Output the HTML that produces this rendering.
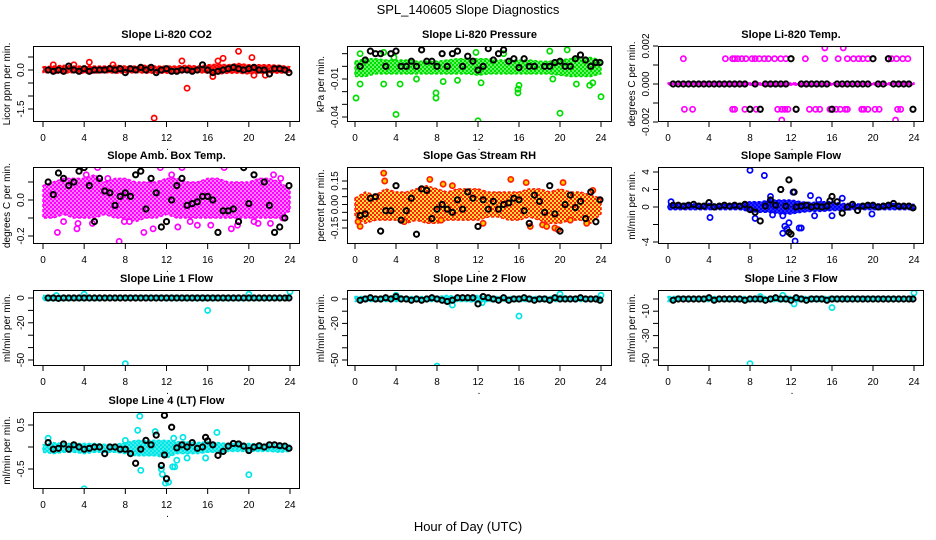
<!DOCTYPE html>
<html><head><meta charset="utf-8"><style>
html,body{margin:0;padding:0;background:#fff;}
svg{display:block;font-family:"Liberation Sans",sans-serif;}
</style></head><body>
<svg id="chart" width="936" height="540" viewBox="0 0 936 540">
<rect x="0" y="0" width="936" height="540" fill="#fff"/>
<text x="468" y="14" text-anchor="middle" font-size="13">SPL_140605  Slope Diagnostics</text>
<text x="468" y="531" text-anchor="middle" font-size="13">Hour of Day (UTC)</text>
</svg>
<script>
const bandHours=[0,1,2,3,4,5,6,7,8,9,10,11,12,13,14,15,16,17,18,19,20,21,22,23,24];
const blackX=[0.5,1,1.5,2,2.5,3,3.5,4,4.5,5,5.5,6,6.5,7,7.5,8,8.5,9,9.5,10,10.5,11,11.5,12,12.5,13,13.5,14,14.5,15,15.5,16,16.5,17,17.5,18,18.5,19,19.5,20,20.5,21,21.5,22,22.5,23,23.5,23.9];
const xTicks=[0,4,8,12,16,20,24];

const co2Lo=[-0.1,-0.12,-0.12,-0.1,-0.12,-0.12,-0.1,-0.12,-0.12,-0.1,-0.12,-0.12,-0.12,-0.12,-0.1,-0.1,-0.12,-0.15,-0.12,-0.12,-0.15,-0.12,-0.12,-0.12,-0.1];
const co2Hi=[0.12,0.15,0.18,0.15,0.15,0.15,0.15,0.18,0.15,0.15,0.18,0.15,0.15,0.15,0.18,0.15,0.2,0.22,0.2,0.25,0.2,0.2,0.2,0.18,0.12];
const co2Out=[[1,0.2],[3,0.2],[4.5,0.3],[6.8,0.2],[13.5,0.35],[14,-0.7],[10.8,-1.85],[17,0.35],[17.5,0.45],[19,0.72],[20.3,0.48],[20.5,-0.2],[21.6,-0.2],[16.5,-0.25]];
const co2Black=[0,-0.05,0,-0.05,0.15,0,-0.05,0.05,-0.05,0,0,0,0.05,0,0.05,-0.1,0.05,0,0.1,0,0.1,-0.1,0,0.05,-0.05,-0.05,0,0,-0.05,0,0.2,0,-0.1,-0.05,0,0.05,0.1,0.05,0,0.05,0.1,0,0,-0.15,0.05,0.05,0,-0.1];

const prLo=[-0.008,-0.008,-0.006,-0.006,-0.006,-0.006,-0.006,-0.006,-0.006,-0.006,-0.006,-0.006,-0.007,-0.006,-0.006,-0.006,-0.006,-0.006,-0.006,-0.006,-0.007,-0.008,-0.008,-0.008,-0.006];
const prHi=[0.004,0.006,0.006,0.005,0.005,0.005,0.004,0.004,0.004,0.005,0.006,0.006,0.006,0.006,0.005,0.005,0.005,0.005,0.004,0.004,0.005,0.006,0.007,0.007,0.005];
const prOut=[[0.1,-0.025],[0.5,-0.014],[0.5,0.01],[2.8,-0.014],[2.8,0.011],[4,-0.038],[4.4,-0.014],[7.9,-0.021],[7.9,-0.025],[8.6,-0.012],[11.8,0.011],[12,-0.043],[12.3,-0.013],[15.9,-0.021],[15.9,-0.018],[16,-0.015],[19,0.012],[19.3,-0.01],[20,-0.037],[20.7,0.013],[21.6,-0.014],[22.9,-0.015],[24,-0.024],[6,-0.01],[10,-0.011],[23.2,-0.013],[3.8,0.007],[14.5,0.01]];
const prBlack=[0,0.005,0.012,0.01,0.01,0,0.01,0.012,0,0,0.004,0,0.013,0.004,0.004,0,0.01,0,0.01,0.012,0,0.008,0.004,-0.003,0,0.014,0.005,0.01,0.013,0.004,0.006,-0.001,0.006,0,0,0.018,0,0,0.003,0.004,0,0,0.006,0.009,0.005,0,0.003,0.003];

const tmLo=[-0.00006,-0.00006,-0.00006,-0.00006,-0.00006,-0.00006,-0.00006,-0.00006,-0.00006,-0.00006,-0.00006,-0.00006,-0.00006,-0.00006,-0.00006,-0.00006,-0.00006,-0.00006,-0.00006,-0.00006,-0.00006,-0.00006,-0.00006,-0.00006,-0.00006];
const tmHi=[0.00006,0.00006,0.00006,0.00006,0.00006,0.00006,0.00006,0.00006,0.00006,0.00006,0.00006,0.00006,0.00006,0.00006,0.00006,0.00006,0.00006,0.00006,0.00006,0.00006,0.00006,0.00006,0.00006,0.00006,0.00006];
const tmOut=[[1.5,0.00133],[5.6,0.00133],[6.3,0.00133],[6.5,0.00133],[6.8,0.00133],[7.2,0.00133],[7.6,0.00133],[8.2,0.00133],[8.5,0.00133],[8.9,0.00133],[9.4,0.00133],[9.8,0.00133],[10.4,0.00133],[11,0.00133],[11.5,0.00133],[13.4,0.00133],[15.3,0.00133],[16.6,0.00133],[17.5,0.00133],[18.1,0.00133],[18.6,0.00133],[19,0.00133],[19.5,0.00133],[21.5,0.00133],[21.8,0.00133],[22.3,0.00133],[22.9,0.00133],[23.4,0.00133],
[1.6,-0.00133],[2.4,-0.00133],[6.3,-0.00133],[6.5,-0.00133],[7.5,-0.00133],[8.6,-0.00133],[10.7,-0.00133],[11.1,-0.00133],[11.4,-0.00133],[11.7,-0.00133],[12.5,-0.00133],[13.8,-0.00133],[14.4,-0.00133],[14.8,-0.00133],[15.8,-0.00133],[16.4,-0.00133],[16.8,-0.00133],[17.3,-0.00133],[17.5,-0.00133],[18.9,-0.00133],[19.1,-0.00133],[19.5,-0.00133],[20.2,-0.00133],[20.6,-0.00133],[22.4,-0.00133],[22.7,-0.00133],
[15.3,0.0019],[17.1,0.0019],[11.1,-0.0019],[22.2,-0.0019]];
const tmBlack=[0,0,0,0,0,0,0,0,0,0,0,0,0,0,0,-0.00133,0,-0.00133,0,0,0,0,0,0.00133,-0.00133,0,0,0,0,0,0,-0.00133,0,0,0,0,0,0,0,0.00133,0,0,0.00133,0,0,0,0,-0.00133];

const abLo=[-0.1,-0.1,-0.08,-0.1,-0.1,-0.1,-0.08,-0.1,-0.1,-0.12,-0.1,-0.1,-0.08,-0.1,-0.1,-0.1,-0.1,-0.1,-0.1,-0.1,-0.1,-0.1,-0.1,-0.1,-0.06];
const abHi=[0.08,0.1,0.12,0.12,0.12,0.14,0.1,0.12,0.12,0.1,0.1,0.1,0.12,0.12,0.1,0.1,0.12,0.12,0.1,0.1,0.1,0.12,0.12,0.1,0.06];
const abOut=[[1.4,-0.18],[2,-0.12],[3.3,-0.16],[3.4,-0.13],[4.8,-0.13],[5.3,0.18],[7.4,-0.23],[7.9,-0.12],[8.4,-0.12],[9.8,-0.18],[10.7,-0.16],[11.4,0.18],[13.1,-0.15],[13.5,0.18],[14.3,-0.12],[15,-0.14],[16.3,-0.14],[17.6,0.18],[18.3,-0.16],[18.9,-0.14],[19.8,0.2],[20.2,0.2],[20.5,-0.12],[20.9,-0.13],[22.1,-0.13],[22.4,0.14],[23.1,0.12],[23.3,-0.1],[12.5,0.14],[6.3,0.12],[4.2,0.14]];
const abBlack=[0.1,0.03,0.15,0.12,0.08,0.1,0.16,0.18,0.08,-0.12,0.12,0.05,0.04,-0.03,0.02,0.04,0.02,0.14,0.16,-0.05,0.12,0.04,-0.15,-0.12,0,0.08,0.12,-0.03,-0.02,-0.01,0.02,0.02,0,-0.18,-0.06,-0.06,-0.05,-0.12,0.18,-0.02,0.14,0.22,0.1,-0.03,-0.18,-0.15,-0.1,0.08];

const rhLo=[-0.08,-0.12,-0.1,-0.1,-0.1,-0.12,-0.1,-0.12,-0.12,-0.1,-0.1,-0.1,-0.1,-0.08,-0.08,-0.1,-0.1,-0.08,-0.1,-0.12,-0.12,-0.1,-0.1,-0.12,-0.06];
const rhHi=[0.04,0.08,0.06,0.1,0.08,0.08,0.1,0.12,0.1,0.08,0.1,0.1,0.1,0.08,0.08,0.08,0.08,0.1,0.1,0.08,0.1,0.08,0.08,0.06,0.04];
const rhOut=[[2.8,0.2],[2.9,0.15],[0.5,-0.14],[7.3,0.16],[8.6,0.13],[12.5,-0.12],[15.2,0.16],[16.7,0.14],[17.1,-0.14],[18.3,-0.13],[18.7,-0.14],[19.5,-0.15],[19.8,-0.16],[20.3,0.14],[21,-0.1],[22.6,-0.12],[23.2,0.09],[0.3,-0.11],[4.8,-0.11],[8.4,-0.1],[9.5,0.12]];
const rhBlack=[-0.07,-0.06,0.04,0.05,-0.17,-0.04,-0.04,0.12,-0.1,-0.04,0.04,-0.19,0.1,0.09,-0.09,-0.03,0,-0.03,-0.05,0.03,-0.03,0.08,0.04,-0.14,0.03,-0.03,0.02,-0.03,0,0.01,0.04,0.03,-0.04,-0.12,0.06,0.02,-0.05,0.12,-0.06,-0.17,0,0.06,-0.02,0.02,-0.09,0.08,-0.11,0.03];

const sfLo=[-0.3,-0.3,-0.3,-0.3,-0.3,-0.3,-0.3,-0.3,-0.5,-0.6,-0.6,-0.8,-0.8,-0.6,-0.5,-0.5,-0.4,-0.4,-0.3,-0.3,-0.3,-0.3,-0.3,-0.3,-0.3];
const sfHi=[0.3,0.4,0.4,0.3,0.4,0.3,0.3,0.4,0.6,0.6,0.8,0.8,0.8,0.6,0.5,0.6,0.6,0.4,0.4,0.3,0.4,0.3,0.4,0.3,0.3];
const sfOut=[[0.3,0.6],[4.1,-1.2],[8,4.2],[8.5,-1.3],[9.4,3.6],[10,1.2],[10.2,-0.9],[11,2],[11.2,-1],[11.4,-2.2],[11.6,-2.5],[11.8,-1.8],[12.2,1.7],[12.4,-3.9],[12.8,-2.4],[13,-2.4],[13.9,1.3],[14.3,-1],[14.7,0.8],[17,1],[11.2,-3],[19.9,-0.8],[16,-1],[9.8,0.4]];
const sfBlack=[0.2,0.2,0.1,0.2,0.3,0.1,0.1,0.5,0,0.1,0.2,0.1,0.2,0.1,0.3,-0.3,-0.6,-1.6,0.1,0.8,0.2,2,0.1,-3.1,0,0.1,0.2,0,0.1,0,0.1,1.2,0.6,-0.7,0,0.3,-0.4,0.1,0.2,0.2,0,0.1,0.2,0.4,0.1,0.1,0.1,-0.1];
const sfBlackOut=[[11.8,3.1],[11.8,-2.9],[12.3,1.7],[15.8,0.7]];

const l1Lo=[-2,-2,-2,-2,-2,-2,-2,-2,-2,-2,-2,-2,-2,-2,-2,-2,-2,-2,-2,-2,-2,-2,-2,-2,-2];
const l1Hi=[2,2,2,2,2,2,2,2,2,2,2,2,2,2,2,2,2,2,2,2,2,2,2,2,2];
const l1Out=[[4,3],[16,-10],[20,3],[24,5],[8,-53],[1.3,2]];
const l1Black=[0,0,-0.3,0,0,0,0,0,0,0,0,0,0,0,0,0,0,0,0,0,0,0,0,0,0,0,0,0,0,0,0,0,0,0,0,0,0,0,0,0,0,0,0,0,0,0,0,0];

const l2Lo=[-2,-2,-2,-2,-2,-2,-2,-2,-2,-3,-2,-2,-3,-2,-2,-2,-2,-2,-2,-2,-2,-2,-2,-2,-2];
const l2Hi=[2,2,2,2,3,2,2,2,2,3,2,2,3,2,2,2,2,2,2,2,3,2,2,2,2];
const l2Out=[[4,3],[8,-55],[9.5,-5],[16,-14],[20,4],[24,3],[12.4,-3]];
const l2Black=[-1,0,1,0,0,1,0,2,0,0,-1,0,-1,0,1,0,-1,-2,-1,1,1,1,1,-4,2,1,0,-1,1,-1,0,0,1,0,-1,0,0,-1,1,0,0,0,0,1,0,0,0,-1];

const l3Lo=[-2,-2,-2,-2,-2,-2,-2,-2,-2,-2,-2,-2,-2,-2,-2,-2,-2,-2,-2,-2,-2,-2,-2,-2,-2];
const l3Hi=[2,2,2,2,2,2,2,2,2,2,2,2,2,2,2,2,2,2,2,2,2,2,2,2,2];
const l3Out=[[8,-53],[16,-7],[24,5],[11.2,3],[12.3,-4],[9,2]];
const l3Black=[-1,0,0,0,0,0,0,1,-1,0,0,0,0,0,-1,0,0,0,-1,0,1,0,0,-1,1,0,-1,0,0,0,-1,0,0,0,0,0,0,0,0,0,0,0,0,0,0,0,0,0];

const l4Lo=[-0.12,-0.15,-0.12,-0.12,-0.15,-0.12,-0.12,-0.12,-0.15,-0.2,-0.2,-0.2,-0.25,-0.15,-0.15,-0.15,-0.12,-0.12,-0.1,-0.1,-0.1,-0.1,-0.1,-0.12,-0.1];
const l4Hi=[0.05,0.1,0.08,0.08,0.08,0.08,0.06,0.06,0.1,0.15,0.15,0.15,0.15,0.12,0.12,0.1,0.12,0.1,0.08,0.08,0.08,0.06,0.06,0.06,0.04];
const l4Out=[[0.5,0.2],[4,-0.95],[8,0.15],[9.2,0.38],[9.4,0.7],[9.5,-0.53],[10.9,0.35],[11.5,-0.5],[11.6,-0.62],[11.9,-0.82],[12.2,-0.8],[12.6,-0.45],[12.8,-0.45],[13,-0.3],[14,-0.25],[16.9,0.33],[15.8,-0.25],[20,-0.63],[12.7,0.2],[13.6,0.22]];
const l4Black=[0.1,-0.05,-0.03,0.07,-0.05,0.05,0,-0.05,-0.03,0,0,-0.15,0,0,-0.05,-0.05,-0.15,-0.37,-0.05,0.15,0.05,0.27,-0.42,-0.72,0.45,-0.02,0.05,0,0.1,-0.03,0,0.14,0.05,-0.19,-0.1,0.02,0.08,0.07,0.02,-0.08,0,0.03,0,0.05,0.05,0.03,0.02,-0.03];
const l4BlackOut=[[11.8,0.72],[15.8,0.22],[11.8,-0.18]];

const NS='http://www.w3.org/2000/svg';
const svg=document.getElementById('chart');
function mk(tag,attrs,parent){const e=document.createElementNS(NS,tag);for(const k in attrs)e.setAttribute(k,attrs[k]);(parent||svg).appendChild(e);return e;}
const defs=mk('defs',{});

const cols=[{l:33,r:300,x0:43,x24:290},{l:347,r:612,x0:355,x24:601},{l:658,r:924,x0:668,x24:914}];
const rows=[{t:46,b:122},{t:167,b:244},{t:290,b:366},{t:412,b:489}];

const panels=[
 {name:'co2',title:'Slope Li-820 CO2',ylab:'Licor ppm per min.',c:0,r:0,v1:0,p1:70,v2:-1.5,p2:109,ticks:[-1.5,-1,-0.5,0,0.5],labels:{'0':'0.0','-1.5':'-1.5'},col:'#ff0000',alt:'#ff0000',dens:0.85,lo:co2Lo,hi:co2Hi,out:co2Out,black:co2Black},
 {name:'pressure',title:'Slope Li-820 Pressure',ylab:'kPa per min.',c:1,r:0,v1:-0.01,p1:79,v2:-0.04,p2:117,ticks:[0.01,0,-0.01,-0.02,-0.03,-0.04],labels:{'-0.01':'-0.01','-0.04':'-0.04'},col:'#00dd00',alt:'#00ee00',dens:0.6,lo:prLo,hi:prHi,out:prOut,black:prBlack},
 {name:'li820-temp',title:'Slope Li-820 Temp.',ylab:'degrees C per min.',c:2,r:0,v1:0.002,p1:46,v2:-0.002,p2:122,ticks:[0.002,0.001,0,-0.001,-0.002],labels:{'0.002':'0.002','0':'0.000','-0.002':'-0.002'},col:'#ff00ff',alt:'#ff00ff',dens:1,lo:tmLo,hi:tmHi,out:tmOut,black:tmBlack},
 {name:'amb-box-temp',title:'Slope Amb. Box Temp.',ylab:'degrees C per min.',c:0,r:1,v1:0,p1:200,v2:-0.2,p2:236,ticks:[-0.2,-0.1,0,0.1],labels:{'0':'0.0','-0.2':'-0.2'},col:'#ff00ff',alt:'#ff00ff',dens:0.5,lo:abLo,hi:abHi,out:abOut,black:abBlack},
 {name:'gas-stream-rh',title:'Slope Gas Stream RH',ylab:'percent per min.',c:1,r:1,v1:0.15,p1:181,v2:-0.15,p2:228,ticks:[-0.15,-0.1,-0.05,0,0.05,0.1,0.15],labels:{'0.15':'0.15','0':'0.00','-0.15':'-0.15'},col:'#ff2000',alt:'#ffd000',dens:0.75,lo:rhLo,hi:rhHi,out:rhOut,black:rhBlack},
 {name:'sample-flow',title:'Slope Sample Flow',ylab:'ml/min per min.',c:2,r:1,v1:4,p1:172,v2:-4,p2:242,ticks:[-4,-2,0,2,4],labels:{'4':'4','2':'2','0':'0','-4':'-4'},col:'#0000ff',alt:'#0000ff',dens:0.85,lo:sfLo,hi:sfHi,out:sfOut,black:sfBlack,blackOut:sfBlackOut},
 {name:'line1-flow',title:'Slope Line 1 Flow',ylab:'ml/min per min.',c:0,r:2,v1:0,p1:298,v2:-50,p2:360,ticks:[0,-10,-20,-30,-40,-50],labels:{'0':'0','-20':'-20','-50':'-50'},col:'#00e5e5',alt:'#00e5e5',dens:0.8,lo:l1Lo,hi:l1Hi,out:l1Out,black:l1Black},
 {name:'line2-flow',title:'Slope Line 2 Flow',ylab:'ml/min per min.',c:1,r:2,v1:0,p1:299,v2:-50,p2:360,ticks:[0,-10,-20,-30,-40,-50],labels:{'0':'0','-20':'-20','-50':'-50'},col:'#00e5e5',alt:'#00e5e5',dens:0.8,lo:l2Lo,hi:l2Hi,out:l2Out,black:l2Black},
 {name:'line3-flow',title:'Slope Line 3 Flow',ylab:'ml/min per min.',c:2,r:2,v1:0,p1:299,v2:-50,p2:360,ticks:[0,-10,-20,-30,-40,-50],labels:{'-10':'-10','-30':'-30','-50':'-50'},col:'#00e5e5',alt:'#00e5e5',dens:0.8,lo:l3Lo,hi:l3Hi,out:l3Out,black:l3Black},
 {name:'line4-flow',title:'Slope Line 4 (LT) Flow',ylab:'ml/min per min.',c:0,r:3,v1:0.5,p1:425,v2:-0.5,p2:469,ticks:[-0.5,0,0.5],labels:{'0.5':'0.5','-0.5':'-0.5'},col:'#00e5e5',alt:'#00e5e5',dens:0.75,lo:l4Lo,hi:l4Hi,out:l4Out,black:l4Black,blackOut:l4BlackOut}
];

panels.forEach(p=>{
  const C=cols[p.c],R=rows[p.r];
  // speckle pattern for dense band
  const pat=mk('pattern',{id:'pat-'+p.name,width:4,height:4,patternUnits:'userSpaceOnUse'},defs);
  mk('rect',{x:0,y:0,width:4,height:4,fill:p.alt,'fill-opacity':p.dens},pat);
  mk('rect',{x:0,y:0,width:2,height:2,fill:p.col},pat);
  mk('rect',{x:2,y:2,width:2,height:2,fill:p.col},pat);
  const g=mk('g',{});
  
  
  const xs=v=>C.x0+(C.x24-C.x0)*v/24;
  const ys=v=>p.p1+(p.p2-p.p1)*(v-p.v1)/(p.v2-p.v1);
  const clipId='clip-'+p.name;
  const cp=mk('clipPath',{id:clipId},g);
  mk('rect',{x:C.l,y:R.t,width:C.r-C.l,height:R.b-R.t},cp);
  const data=mk('g',{'clip-path':'url(#'+clipId+')'},g);
  let pts=bandHours.map((h,i)=>xs(h)+','+ys(p.hi[i]));
  pts=pts.concat(bandHours.map((h,i)=>xs(h)+','+ys(p.lo[i])).reverse());
  const band=mk('polygon',{points:pts.join(' '),fill:'url(#pat-'+p.name+')',stroke:p.col,'stroke-width':1.5,'stroke-dasharray':'3 2','stroke-linejoin':'round'},data);
  
  
  p.out.forEach(d=>{
    const c=mk('circle',{cx:xs(d[0]),cy:ys(d[1]),r:2.6,fill:p.name==='gas-stream-rh'?'#ffd000':'none',stroke:p.col,'stroke-width':1.7},data);
    
    
  });
  const bl=blackX.map((x,i)=>[x,p.black[i]]).concat(p.blackOut||[]);
  bl.forEach(d=>{
    const c=mk('circle',{cx:xs(d[0]),cy:ys(d[1]),r:2.6,fill:'none',stroke:'#000','stroke-width':2},data);
    
    
  });
  const box=mk('rect',{x:C.l+0.5,y:R.t+0.5,width:C.r-C.l-1,height:R.b-R.t-1,fill:'none',stroke:'#000','stroke-width':1},g);
  
  
  const t=mk('text',{x:(C.l+C.r)/2,y:R.t-8,'text-anchor':'middle','font-size':11,'font-weight':'bold'},g);
  t.textContent=p.title;
  
  
  xTicks.forEach(v=>{
    const x=xs(v);
    mk('line',{x1:x,x2:x,y1:R.b,y2:R.b+5,stroke:'#000'},g);
    const l=mk('text',{x:x,y:R.b+19,'text-anchor':'middle','font-size':10},g);
    l.textContent=v;
    
    
  });
  const dot=mk('text',{x:xs(12)+1,y:R.b+28,'text-anchor':'middle','font-size':10},g);
  dot.textContent='.';
  p.ticks.forEach(v=>{
    const y=ys(v);
    mk('line',{x1:C.l-5,x2:C.l,y1:y,y2:y,stroke:'#000'},g);
    const key=String(v);
    if(p.labels[key]!==undefined){
      const l=mk('text',{x:C.l-9,y:y,'text-anchor':'middle','font-size':10,transform:'rotate(-90 '+(C.l-9)+' '+y+')'},g);
      l.textContent=p.labels[key];
      
      
    }
  });
  const yl=mk('text',{x:C.l-23,y:(R.t+R.b)/2,'text-anchor':'middle','font-size':10,transform:'rotate(-90 '+(C.l-23)+' '+((R.t+R.b)/2)+')'},g);
  yl.textContent=p.ylab;
  
  
});
</script>
</body></html>
